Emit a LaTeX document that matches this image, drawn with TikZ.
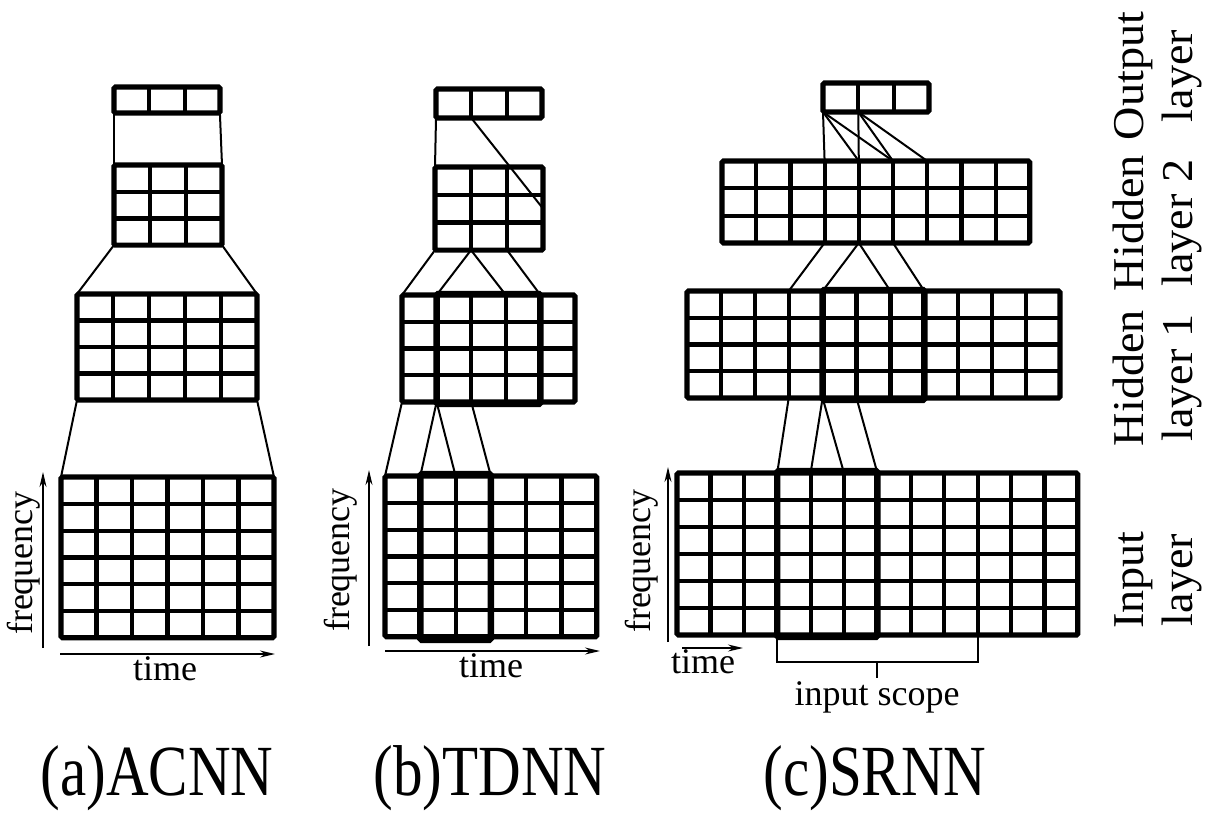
\documentclass[tikz,border=0pt]{standalone}
\usepackage{fontspec}
\setmainfont{Liberation Serif}
\usetikzlibrary{arrows.meta,calc}

\tikzset{
  layerbox/.style={draw, line width=5.2pt, rounded corners=1.5pt, inner sep=0pt,
    outer sep=0pt, anchor=north west},
  cellline/.style={line width=4.2pt},
  focusbox/.style={draw, line width=6.4pt, rounded corners=1.5pt},
  link/.style={line width=2pt},
  axis/.style={line width=1.7pt, -{Stealth[length=15pt,width=7pt]}},
  lbl/.style={font=\fontsize{36}{44}\selectfont, inner sep=0pt},
  sidelbl/.style={font=\fontsize{44}{50}\selectfont, rotate=90, inner sep=0pt, anchor=base},
  caption/.style={font=\fontsize{72}{80}\selectfont, inner sep=0pt, anchor=base},
}

% a layer drawn as a grid of cells: name, left, top, columns, rows, cell width, cell height
% column boundaries are available as (name-t<i>) on top and (name-b<i>) at the bottom
\newcommand\netlayer[7]{%
  \pgfmathsetmacro\nlW{(#4)*(#6)}%
  \pgfmathsetmacro\nlH{(#5)*(#7)}%
  \node[layerbox, minimum width=\nlW pt, minimum height=\nlH pt] (#1) at (#2,#3) {};
  \pgfmathtruncatemacro\nlC{#4-1}%
  \pgfmathtruncatemacro\nlR{#5-1}%
  \ifnum\nlC>0
    \foreach \i in {1,...,\nlC}
      \draw[cellline] ($(#1.north west)+(\i*#6,0)$) -- ($(#1.south west)+(\i*#6,0)$);
  \fi
  \ifnum\nlR>0
    \foreach \i in {1,...,\nlR}
      \draw[cellline] ($(#1.north west)+(0,\i*#7)$) -- ($(#1.north east)+(0,\i*#7)$);
  \fi
  \foreach \i in {0,...,#4} {
    \coordinate (#1-t\i) at ($(#1.north west)+(\i*#6,0)$);
    \coordinate (#1-b\i) at ($(#1.south west)+(\i*#6,0)$);
  }
}
% text of the layer names, stretched a little along the line
\newcommand\sidetext[1]{\scalebox{1.05}[1]{#1}}

\begin{document}
\begin{tikzpicture}[x=1pt, y=-1pt]
\useasboundingbox (0,0) rectangle (1220,820);

% ---------------- (a) ACNN ----------------
\netlayer{aout}{114}{87}{3}{1}{35.3}{26}
\netlayer{ah2}{114}{165}{3}{3}{36}{26.7}
\netlayer{ah1}{77}{294}{5}{4}{36}{26.5}
\netlayer{ain}{61}{477}{6}{6}{35.5}{26.8}

\draw[link] (aout-b0) -- (ah2-t0);
\draw[link] (aout-b3) -- (ah2-t3);
\draw[link] (ah2-b0) -- (ah1-t0);
\draw[link] (ah2-b3) -- (ah1-t5);
\draw[link] (ah1-b0) -- (ain-t0);
\draw[link] (ah1-b5) -- (ain-t6);

\coordinate (fa0) at (43,648);
\coordinate (fa1) at (43,472);
\draw[axis] (fa0) -- (fa1);
\coordinate (ta0) at (60,654);
\coordinate (ta1) at (275,654);
\draw[axis] (ta0) -- (ta1);
\node[lbl, rotate=90, anchor=base] (freqa) at (32,563) {frequency};
\node[lbl, anchor=base] (timea) at (165,680) {time};

% ---------------- (b) TDNN ----------------
\netlayer{bout}{436}{89}{3}{1}{35.3}{29}
\netlayer{bh2}{435}{167}{3}{3}{36}{27.7}
\netlayer{bh1}{402}{295}{5}{4}{34.6}{26.75}
\netlayer{bin}{385}{476}{6}{6}{35.3}{26.8}

\draw[focusbox] ($(bh1-t1)+(0,-1)$) rectangle ($(bh1-b4)+(0,2)$);
\draw[focusbox] ($(bin-t1)+(0,-2)$) rectangle ($(bin-b3)+(0,3)$);

\draw[link] (bout-b0) -- (bh2-t0);
\draw[link] (bout-b1) -- (bh2.east);
\draw[link] (bh2-b0) -- (bh1-t0);
\draw[link] (bh2-b1) -- (bh1-t1);
\draw[link] (bh2-b1) -- (bh1-t3);
\draw[link] (bh2-b2) -- (bh1-t4);
\draw[link] (bh1-b0) -- (bin-t0);
\draw[link] (bh1-b1) -- (bin-t1);
\draw[link] (bh1-b1) -- (bin-t2);
\draw[link] (bh1-b2) -- (bin-t3);

\coordinate (fb0) at (369,646);
\coordinate (fb1) at (369,470);
\draw[axis] (fb0) -- (fb1);
\coordinate (tb0) at (385,651);
\coordinate (tb1) at (600,651);
\draw[axis] (tb0) -- (tb1);
\node[lbl, rotate=90, anchor=base] (freqb) at (349,560) {frequency};
\node[lbl, anchor=base] (timeb) at (491,677) {time};

% ---------------- (c) SRNN ----------------
\netlayer{cout}{823}{83}{3}{1}{35.3}{29}
\netlayer{ch2}{722}{161}{9}{3}{34.2}{27.3}
\netlayer{ch1}{687}{291}{11}{4}{33.9}{26.75}
\netlayer{cin}{677}{473}{12}{6}{33.4}{27}

\draw[focusbox] ($(ch1-t4)+(0,-1)$) rectangle ($(ch1-b7)+(0,2)$);
\draw[focusbox] ($(cin-t3)+(0,-2)$) rectangle ($(cin-b6)+(0,2)$);

\draw[link] (cout-b0) -- (ch2-t3);
\draw[link] (cout-b0) -- (ch2-t4);
\draw[link] (cout-b0) -- (ch2-t5);
\draw[link] (cout-b1) -- (ch2-t4);
\draw[link] (cout-b1) -- (ch2-t5);
\draw[link] (cout-b1) -- (ch2-t6);
\draw[link] (ch2-b3) -- (ch1-t3);
\draw[link] (ch2-b4) -- (ch1-t4);
\draw[link] (ch2-b4) -- (ch1-t6);
\draw[link] (ch2-b5) -- (ch1-t7);
\draw[link] (ch1-b3) -- (cin-t3);
\draw[link] (ch1-b4) -- (cin-t4);
\draw[link] (ch1-b4) -- (cin-t5);
\draw[link] (ch1-b5) -- (cin-t6);

% input scope bracket
\coordinate (sL) at ($(cin-b3)+(0,27)$);
\coordinate (sR) at ($(cin-b9)+(0,27)$);
\coordinate (sM) at ($(sL)!0.5!(sR)$);
\coordinate (sT) at ($(sM)+(0,16)$);
\draw[link] (cin-b3) -- (sL) -- (sR) -- (cin-b9);
\draw[link] (sM) -- (sT);
\node[lbl, anchor=base] (scope) at (877,705) {input scope};

\coordinate (fc0) at (668,642);
\coordinate (fc1) at (668,467);
\draw[axis] (fc0) -- (fc1);
\coordinate (tc0) at (682,648);
\coordinate (tc1) at (743,648);
\draw[axis] (tc0) -- (tc1);
\node[lbl, rotate=90, anchor=base] (freqc) at (650,561) {frequency};
\node[lbl, anchor=base] (timec) at (703,673) {time};

% ---------------- layer names ----------------
\node[sidelbl] (nout1) at (1143,76) {\sidetext{Output}};
\node[sidelbl] (nout2) at (1192,76) {\sidetext{layer}};
\node[sidelbl] (nh2a) at (1143,223) {\sidetext{Hidden}};
\node[sidelbl] (nh2b) at (1192,223) {\sidetext{layer 2}};
\node[sidelbl] (nh1a) at (1143,378) {\sidetext{Hidden}};
\node[sidelbl] (nh1b) at (1192,378) {\sidetext{layer 1}};
\node[sidelbl] (nina) at (1143,580) {\sidetext{Input}};
\node[sidelbl] (ninb) at (1192,580) {\sidetext{layer}};

% ---------------- captions ----------------
\node[caption] (capa) at (157,795) {\scalebox{0.82}[1]{(a)ACNN}};
\node[caption] (capb) at (490,795) {\scalebox{0.82}[1]{(b)TDNN}};
\node[caption] (capc) at (875,795) {\scalebox{0.82}[1]{(c)SRNN}};
\end{tikzpicture}
\end{document}
